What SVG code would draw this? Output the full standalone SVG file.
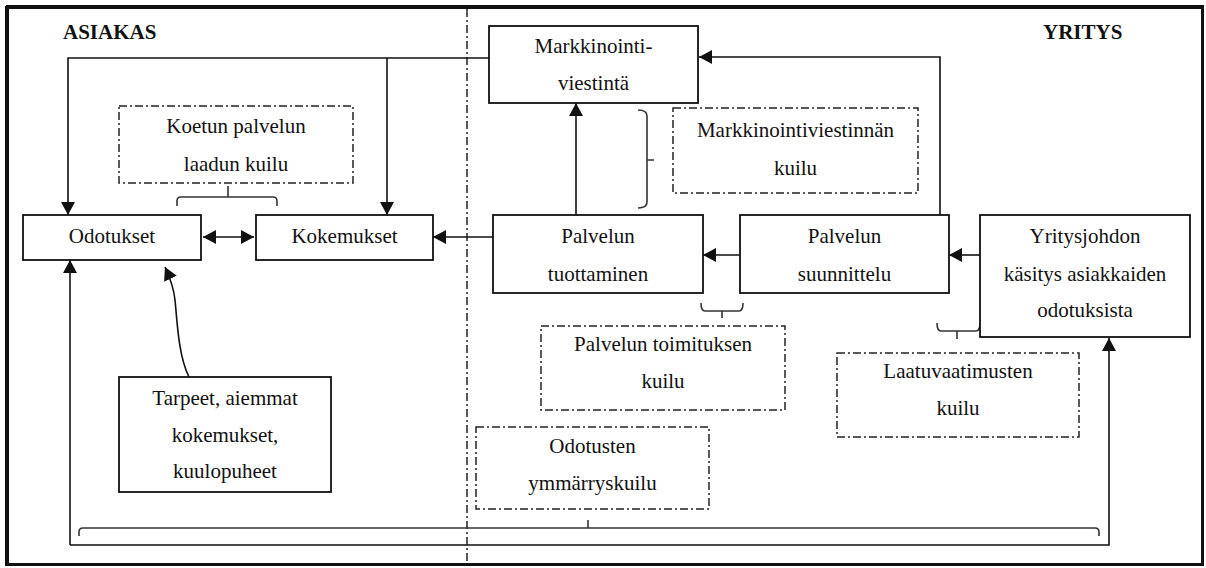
<svg xmlns="http://www.w3.org/2000/svg" width="1206" height="568" viewBox="0 0 1206 568">
<style>
  text { font-family: Tinos, 'Times New Roman', Times, 'Noto Serif', 'Liberation Serif', FreeSerif, 'DejaVu Serif', serif; font-size: 21px; fill: #111; text-anchor: middle; }
  .title { font-weight: bold; text-anchor: start; }
  .box { fill: #fff; stroke: #111; stroke-width: 1.8; }
  .gap { fill: #fff; stroke: #222; stroke-width: 1.5; stroke-dasharray: 8 3 2 3; }
  .ln { fill: none; stroke: #111; stroke-width: 1.6; }
  .br { fill: none; stroke: #333; stroke-width: 1.6; }
</style>
<defs>
  <marker id="ah" markerUnits="userSpaceOnUse" markerWidth="14" markerHeight="14" refX="13" refY="7" orient="auto">
    <path d="M0,0 L13,7 L0,14 z" fill="#111"/>
  </marker>
  <marker id="ahs" markerUnits="userSpaceOnUse" markerWidth="14" markerHeight="14" refX="0" refY="7" orient="auto">
    <path d="M13,0 L0,7 L13,14 z" fill="#111"/>
  </marker>
</defs>
<rect x="0" y="0" width="1206" height="568" fill="#fff"/>
<g id="frame">
  <rect x="7.5" y="7.5" width="1195" height="557" fill="none" stroke="#111" stroke-width="3"/>
  <line x1="7" y1="6" x2="7" y2="566" stroke="#111" stroke-width="4"/>
  <line x1="6" y1="7" x2="1204" y2="7" stroke="#111" stroke-width="4"/>
  <line x1="467" y1="9" x2="467" y2="564" stroke="#222" stroke-width="1.5" stroke-dasharray="8 3 2 3"/>
  <text class="title" x="63" y="39">ASIAKAS</text>
  <text class="title" x="1043" y="39">YRITYS</text>
</g>
<g id="connectors">
  <path class="ln" d="M489,58 L68,58 L68,215" marker-end="url(#ah)"/>
  <path class="ln" d="M387,58 L387,215" marker-end="url(#ah)"/>
  <path class="ln" d="M940,215 L940,57 L699,57" marker-end="url(#ah)"/>
  <path class="ln" d="M576,215 L576,103" marker-end="url(#ah)"/>
  <path class="ln" d="M203,237 L254,237" marker-start="url(#ahs)" marker-end="url(#ah)"/>
  <path class="ln" d="M493,237 L433,237" marker-end="url(#ah)"/>
  <path class="ln" d="M740,255 L703,255" marker-end="url(#ah)"/>
  <path class="ln" d="M980,255 L949,255" marker-end="url(#ah)"/>
  <path class="ln" d="M189,377 C178,355 177,318 175,300 C174,290 171,280 165,267" marker-end="url(#ah)"/>
  <path class="ln" d="M70,545 L70,260" marker-end="url(#ah)"/>
  <path class="ln" d="M70,545 L1109,545 L1109,338" marker-end="url(#ah)"/>
  <path class="br" d="M177,206 L177,201 Q177,197 181,197 L273,197 Q277,197 277,201 L277,206 M228,197 L228,186"/>
  <path class="br" d="M638,110 Q647,110 647,116 L647,202 Q647,208 638,208 M647,160 L654,160"/>
  <path class="br" d="M701,303 Q701,311 705,311 L739,311 Q743,311 743,303 M722,311 L722,318"/>
  <path class="br" d="M937,323 Q937,331 941,331 L976,331 Q980,331 980,323 M957,331 L957,339"/>
  <path class="br" d="M79,536 L79,532 Q79,528 83,528 L1095,528 Q1099,528 1099,532 L1099,536 M588,528 L588,520"/>
</g>
<g id="markkinointiviestinta">
  <rect class="box" x="489" y="26" width="209" height="77"/>
  <text x="593.5" y="53">Markkinointi-</text>
  <text x="593.5" y="90">viestintä</text>
</g>
<g id="koetun-kuilu">
  <rect class="gap" x="119" y="106" width="234" height="77"/>
  <text x="236" y="133">Koetun palvelun</text>
  <text x="236" y="171">laadun kuilu</text>
</g>
<g id="markkinointiviestinnan-kuilu">
  <rect class="gap" x="673" y="108" width="245" height="85"/>
  <text x="795.5" y="137">Markkinointiviestinnän</text>
  <text x="795.5" y="175">kuilu</text>
</g>
<g id="odotukset">
  <rect class="box" x="23" y="215" width="178" height="45"/>
  <text x="112" y="243">Odotukset</text>
</g>
<g id="kokemukset">
  <rect class="box" x="256" y="215" width="177" height="45"/>
  <text x="344.5" y="243">Kokemukset</text>
</g>
<g id="palvelun-tuottaminen">
  <rect class="box" x="493" y="215" width="210" height="78"/>
  <text x="598" y="243">Palvelun</text>
  <text x="598" y="281">tuottaminen</text>
</g>
<g id="palvelun-suunnittelu">
  <rect class="box" x="740" y="215" width="209" height="78"/>
  <text x="844.5" y="243">Palvelun</text>
  <text x="844.5" y="281">suunnittelu</text>
</g>
<g id="yritysjohdon-kasitys">
  <rect class="box" x="980" y="215" width="210" height="122"/>
  <text x="1085" y="243">Yritysjohdon</text>
  <text x="1085" y="281">käsitys asiakkaiden</text>
  <text x="1085" y="317">odotuksista</text>
</g>
<g id="toimituksen-kuilu">
  <rect class="gap" x="541" y="326" width="244" height="84"/>
  <text x="663" y="351">Palvelun toimituksen</text>
  <text x="663" y="388">kuilu</text>
</g>
<g id="laatuvaatimusten-kuilu">
  <rect class="gap" x="837" y="353" width="242" height="84"/>
  <text x="958" y="378">Laatuvaatimusten</text>
  <text x="958" y="415">kuilu</text>
</g>
<g id="tarpeet">
  <rect class="box" x="119" y="377" width="212" height="115"/>
  <text x="225" y="405">Tarpeet, aiemmat</text>
  <text x="225" y="442">kokemukset,</text>
  <text x="225" y="478">kuulopuheet</text>
</g>
<g id="odotusten-kuilu">
  <rect class="gap" x="476" y="427" width="233" height="82"/>
  <text x="592.5" y="453">Odotusten</text>
  <text x="592.5" y="490">ymmärryskuilu</text>
</g>
</svg>
